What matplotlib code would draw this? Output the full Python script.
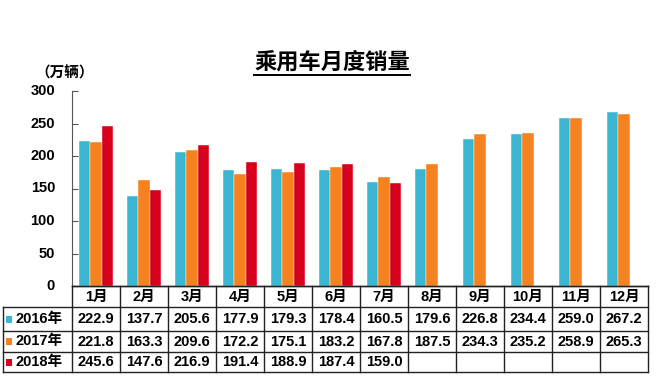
import matplotlib
matplotlib.use("Agg")
import matplotlib.pyplot as plt
from matplotlib.lines import Line2D
from matplotlib.patches import Rectangle
import matplotlib.transforms as mtransforms

plt.rcParams['font.family'] = ['Liberation Sans', 'Noto Sans CJK SC', 'DejaVu Sans']

months = ['1月', '2月', '3月', '4月', '5月', '6月', '7月', '8月', '9月', '10月', '11月', '12月']
years = ['2016年', '2017年', '2018年']
sales_2016 = [222.9, 137.7, 205.6, 177.9, 179.3, 178.4, 160.5, 179.6, 226.8, 234.4, 259.0, 267.2]
sales_2017 = [221.8, 163.3, 209.6, 172.2, 175.1, 183.2, 167.8, 187.5, 234.3, 235.2, 258.9, 265.3]
sales_2018 = [245.6, 147.6, 216.9, 191.4, 188.9, 187.4, 159.0]
yticks = [0, 50, 100, 150, 200, 250, 300]
colors = ['#3BB6D2', '#F5821F', '#D7001A']
title = '乘用车月度销量'
unit = '（万辆）'

W, H = 660, 377
fig = plt.figure(figsize=(W / 100, H / 100), dpi=100)

def fx(px):
    return px / W

def fy(py):
    return 1 - py / H

ax_left, ax_right, ax_top, ax_bot = 72, 648, 91, 286
ax = fig.add_axes([fx(ax_left), fy(ax_bot), fx(ax_right - ax_left), (ax_bot - ax_top) / H])

series = [sales_2016, sales_2017, sales_2018]
bw = 0.24
offsets = [-bw, 0, bw]
for s, c, off in zip(series, colors, offsets):
    xs = [i + off for i in range(len(s))]
    ax.bar(xs, s, width=bw, color=c, edgecolor='white', linewidth=0.3)

ax.set_xlim(-0.5, len(months) - 0.5)
ax.set_ylim(0, 300)
ax.set_yticks(yticks)
ax.set_yticklabels([])
ax.tick_params(axis='y', direction='in', length=4, width=0.8, color='#555555')
ax.set_xticks([])
for sp in ['top', 'right']:
    ax.spines[sp].set_visible(False)
ax.spines['left'].set_color('#555555')
ax.spines['left'].set_linewidth(0.8)
ax.spines['bottom'].set_color('#222222')
ax.spines['bottom'].set_linewidth(1.0)

# y tick labels placed manually
ytrans = mtransforms.blended_transform_factory(fig.transFigure, ax.transData)
for t in yticks:
    fig.text(fx(55), t, str(t), transform=ytrans, ha='right', va='center',
             fontsize=10.5, fontweight='bold')

# table (x in data coords, y in figure fraction)
trans = mtransforms.blended_transform_factory(ax.transData, fig.transFigure)
row_lines = [286, 307, 331, 352, 372]
lc = '#222222'
lw = 1.0
x_label_left = -0.5 - (ax_left - 3) / ((ax_right - ax_left) / 12)
for i, y in enumerate(row_lines):
    x0 = -0.5 if i == 0 else x_label_left
    fig.add_artist(Line2D([x0, len(months) - 0.5], [fy(y), fy(y)], transform=trans, color=lc, lw=lw))
for k in range(len(months) + 1):
    xv = k - 0.5
    fig.add_artist(Line2D([xv, xv], [fy(286), fy(372)], transform=trans, color=lc, lw=lw))
fig.add_artist(Line2D([x_label_left, x_label_left], [fy(307), fy(372)], transform=trans, color=lc, lw=lw))

fs = 10.5
header_y = (286 + 307) / 2
for i, m in enumerate(months):
    fig.text(i, fy(header_y), m, transform=trans, ha='center', va='center',
             fontsize=fs, fontweight='bold')
row_centers = [(307 + 331) / 2, (331 + 352) / 2, (352 + 372) / 2]
for r, (s, c, yl) in enumerate(zip(series, colors, years)):
    yc = fy(row_centers[r])
    for i, v in enumerate(s):
        fig.text(i, yc, f'{v:.1f}', transform=trans, ha='center', va='center',
                 fontsize=fs, fontweight='bold')
    fig.add_artist(Rectangle((fx(6), yc - 3.5 / H), 6 / W, 7 / H, transform=fig.transFigure,
                             facecolor=c, edgecolor='none'))
    fig.text(fx(15), yc, yl, ha='left', va='center', fontsize=fs, fontweight='bold')

# title with underline
t = fig.text(fx(332), fy(62), title, ha='center', va='center', fontsize=16,
             fontweight='bold', family=['Noto Sans CJK SC', 'DejaVu Sans'])
fig.canvas.draw()
bb = t.get_window_extent()
uy = bb.y0 - 1
fig.add_artist(Line2D([bb.x0 / W, bb.x1 / W], [uy / H, uy / H], transform=fig.transFigure,
                      color='black', lw=1.4))

fig.text(fx(65), fy(73), unit, ha='center', va='center', fontsize=10.5, fontweight='bold',
         family=['Noto Sans CJK SC', 'DejaVu Sans'])

fig.savefig('out.png', dpi=100)
